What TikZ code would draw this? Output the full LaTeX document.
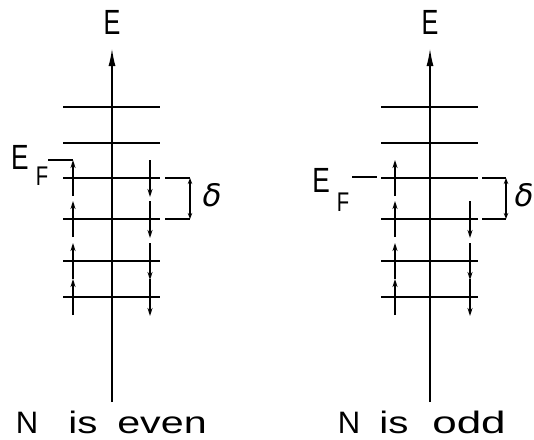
\documentclass[tikz,border=0pt]{standalone}
\usepackage{fontspec}
\setmainfont{Liberation Sans}
\newfontfamily\deltafont{DejaVu Sans}
\usetikzlibrary{arrows.meta}
\tikzset{
  levelline/.style={line width=2.8pt},
  axisline/.style={line width=1.8pt,-{Latex[length=18pt,width=7pt]}},
  spin/.style={line width=1.6pt,-{Stealth[length=8pt,width=5pt]}},
  thinline/.style={line width=1.3pt},
  gaparrow/.style={line width=1.3pt,{Stealth[length=6pt,width=4.5pt]}-{Stealth[length=6pt,width=4.5pt]}},
  lbl/.style={inner sep=0pt,font=\fontsize{35}{35}\selectfont},
  sublbl/.style={inner sep=0pt,font=\fontsize{27}{27}\selectfont,xscale=0.75},
  word/.style={inner sep=0pt,anchor=base,font=\fontsize{31}{31}\selectfont},
  dlt/.style={inner sep=0pt,font=\deltafont\itshape\fontsize{31}{31}\selectfont},
}
\begin{document}
\begin{tikzpicture}[x=1pt,y=-1pt]
\useasboundingbox (0,0) rectangle (534,439);
% axes and levels
\foreach \name/\ax in {L/112,R/430} {
  \coordinate (\name-bot) at (\ax,402);
  \coordinate (\name-top) at (\ax,48);
  \draw[axisline] (\name-bot) -- (\name-top);
  \node[lbl,xscale=0.72] (\name-E) at (\ax,22) {E};
  \foreach \i/\y in {1/107,2/143,3/178,4/219,5/261,6/297} {
    \coordinate (\name-\i-w) at (\ax-49,\y);
    \coordinate (\name-\i-e) at (\ax+48,\y);
    \draw[levelline] (\name-\i-w) -- (\name-\i-e);
  }
}
% spin-up electrons
\foreach \name/\x in {L/73,R/395} {
  \foreach \i/\y in {3/178,4/219,5/261,6/297} {
    \coordinate (\name-up\i-s) at (\x,\y+18);
    \coordinate (\name-up\i-t) at (\x,\y-18);
    \draw[spin] (\name-up\i-s) -- (\name-up\i-t);
  }
}
% spin-down electrons
\foreach \i/\y in {3/178,4/219,5/261,6/297} {
  \coordinate (L-dn\i-s) at (150,\y-18);
  \coordinate (L-dn\i-t) at (150,\y+19);
  \draw[spin] (L-dn\i-s) -- (L-dn\i-t);
}
\foreach \i/\y in {4/219,5/261,6/297} {
  \coordinate (R-dn\i-s) at (470,\y-18);
  \coordinate (R-dn\i-t) at (470,\y+19);
  \draw[spin] (R-dn\i-s) -- (R-dn\i-t);
}
% Fermi level labels
\node[lbl,xscale=0.75] (EL) at (20,157) {E};
\node[sublbl] (FL) at (42,176) {F};
\coordinate (EFL-a) at (48,160);
\draw[thinline] (EFL-a) -- (L-up3-t);
\node[lbl,xscale=0.75] (ER) at (321,180) {E};
\node[sublbl] (FR) at (343,202) {F};
\coordinate (EFR-a) at (352,177);
\coordinate (EFR-b) at (377,177);
\draw[thinline] (EFR-a) -- (EFR-b);
% delta brackets
\foreach \name/\xa/\xb/\xd in {L/165/190/212,R/482/506/524} {
  \coordinate (d\name-t1) at (\xa,178);
  \coordinate (d\name-t2) at (\xb,178);
  \coordinate (d\name-b1) at (\xa,219);
  \coordinate (d\name-b2) at (\xb,219);
  \draw[thinline] (d\name-t1) -- (d\name-t2);
  \draw[thinline] (d\name-b1) -- (d\name-b2);
  \draw[gaparrow] (d\name-t2) -- (d\name-b2);
  \node[dlt] (delta\name) at (\xd,195) {δ};
}
% captions
\node[word] (NL) at (27,433) {N};
\node[word,xscale=1.3] (isL) at (83,433) {is};
\node[word,xscale=1.33] (evenL) at (162,433) {even};
\node[word] (NR) at (349,433) {N};
\node[word,xscale=1.3] (isR) at (394,433) {is};
\node[word,xscale=1.42] (oddR) at (469,433) {odd};
\end{tikzpicture}
\end{document}
